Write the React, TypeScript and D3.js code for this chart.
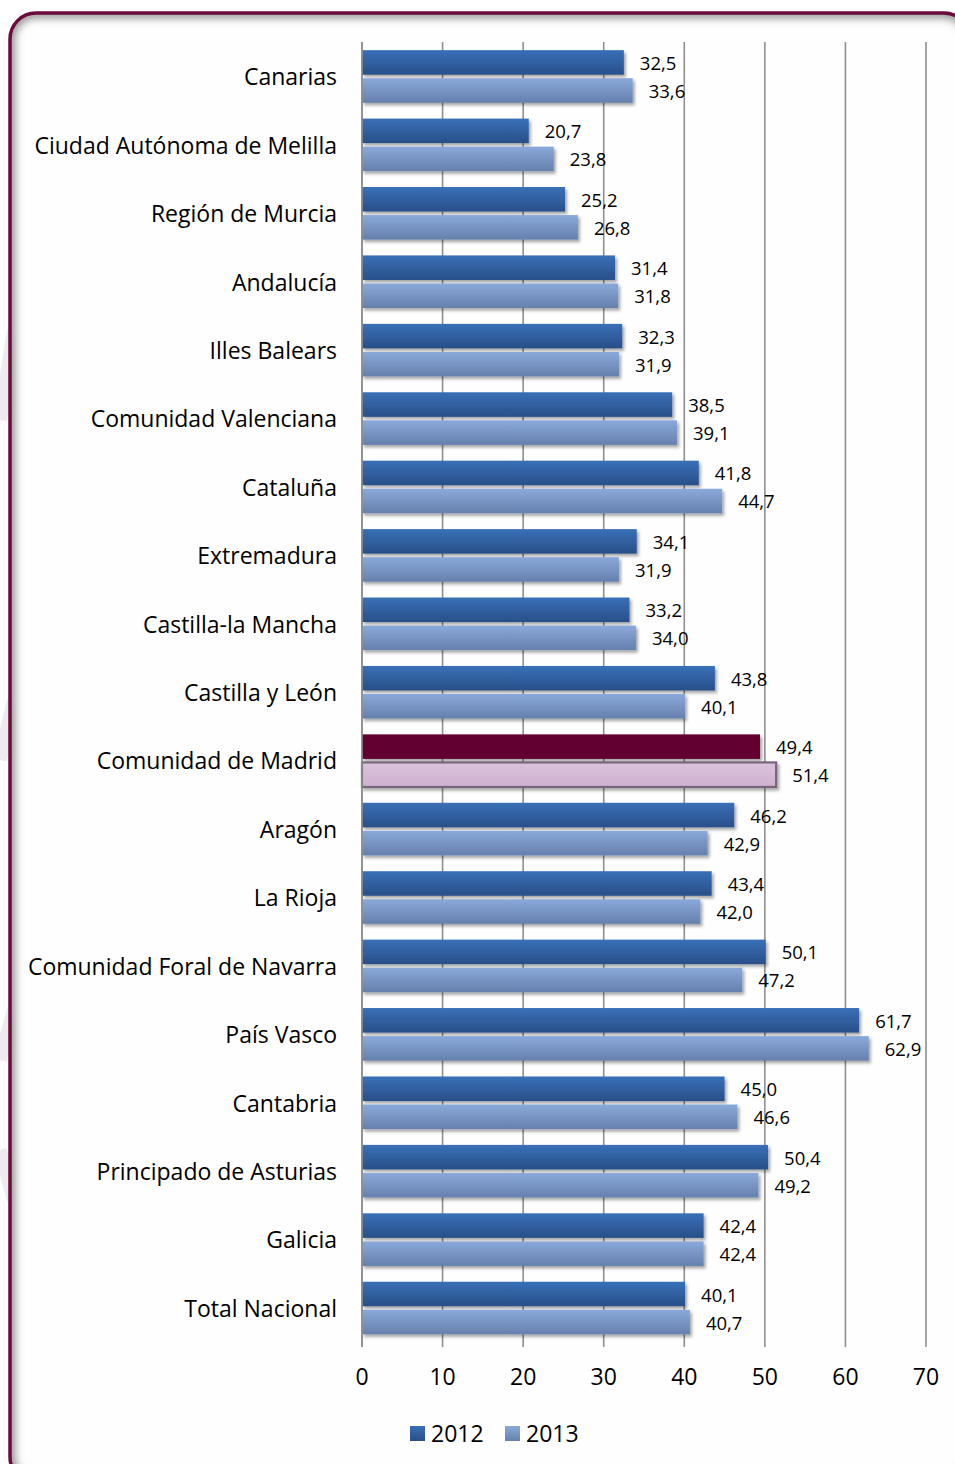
import { useEffect, useRef } from 'react';
import * as d3 from 'd3';

const categories = [
  'Canarias',
  'Ciudad Autónoma de Melilla',
  'Región de Murcia',
  'Andalucía',
  'Illes Balears',
  'Comunidad Valenciana',
  'Cataluña',
  'Extremadura',
  'Castilla-la Mancha',
  'Castilla y León',
  'Comunidad de Madrid',
  'Aragón',
  'La Rioja',
  'Comunidad Foral de Navarra',
  'País Vasco',
  'Cantabria',
  'Principado de Asturias',
  'Galicia',
  'Total Nacional',
];

const values2012 = [32.5, 20.7, 25.2, 31.4, 32.3, 38.5, 41.8, 34.1, 33.2, 43.8, 49.4, 46.2, 43.4, 50.1, 61.7, 45.0, 50.4, 42.4, 40.1];
const values2013 = [33.6, 23.8, 26.8, 31.8, 31.9, 39.1, 44.7, 31.9, 34.0, 40.1, 51.4, 42.9, 42.0, 47.2, 62.9, 46.6, 49.2, 42.4, 40.7];

const seriesNames = ['2012', '2013'];
const xTicks = [0, 10, 20, 30, 40, 50, 60, 70];
const highlight = 'Comunidad de Madrid';

const W = 955;
const H = 1464;
const FONT = "'Open Sans', 'Noto Sans', sans-serif";

const App = () => {
  const svgRef = useRef<SVGSVGElement | null>(null);

  useEffect(() => {
    const svg = d3.select(svgRef.current);
    svg.selectAll('*').remove();

    const defs = svg.append('defs');

    const grad = (id: string, top: string, bottom: string) => {
      const g = defs.append('linearGradient').attr('id', id)
        .attr('x1', 0).attr('y1', 0).attr('x2', 0).attr('y2', 1);
      g.append('stop').attr('offset', '0%').attr('stop-color', top);
      g.append('stop').attr('offset', '100%').attr('stop-color', bottom);
    };
    grad('g2012', '#3a70b8', '#284f88');
    grad('g2013', '#8aa9da', '#6680ad');
    grad('gMad', '#dcc2dc', '#cfb0cf');

    const shadow = defs.append('filter').attr('id', 'shadow')
      .attr('x', '-5%').attr('y', '-30%').attr('width', '115%').attr('height', '180%');
    shadow.append('feDropShadow').attr('dx', 2).attr('dy', 2.5)
      .attr('stdDeviation', 1.6).attr('flood-color', '#000').attr('flood-opacity', 0.35);

    const blur = defs.append('filter').attr('id', 'inner')
      .attr('x', '-10%').attr('y', '-10%').attr('width', '120%').attr('height', '120%');
    blur.append('feGaussianBlur').attr('stdDeviation', 4);

    // frame
    const fx = 10, fy = 13, fw = 960, fh = 1470, fr = 26;
    defs.append('clipPath').attr('id', 'frameClip')
      .append('rect').attr('x', fx).attr('y', fy).attr('width', fw).attr('height', fh).attr('rx', fr);

    svg.append('rect').attr('width', W).attr('height', H).attr('fill', '#ffffff');
    // faint background decoration on the left
    svg.append('path').attr('d', 'M0,420 L14,330 M0,760 L14,700 M0,1060 L14,1010 M0,1150 L14,1200')
      .attr('stroke', '#efeaef').attr('stroke-width', 14).attr('fill', 'none');

    svg.append('rect').attr('x', fx).attr('y', fy).attr('width', fw).attr('height', fh).attr('rx', fr)
      .attr('fill', '#fefefe');
    svg.append('g').attr('clip-path', 'url(#frameClip)')
      .append('rect').attr('x', fx).attr('y', fy).attr('width', fw).attr('height', fh).attr('rx', fr)
      .attr('fill', 'none').attr('stroke', '#8e8e8e').attr('stroke-width', 10)
      .attr('filter', 'url(#inner)');
    svg.append('rect').attr('x', fx).attr('y', fy).attr('width', fw).attr('height', fh).attr('rx', fr)
      .attr('fill', 'none').attr('stroke', '#6b0b3b').attr('stroke-width', 3.5);

    const x = d3.scaleLinear().domain([0, 70]).range([362, 926]);
    const y = d3.scaleBand<string>().domain(categories).range([44, 1344]).paddingInner(0.18).paddingOuter(0.09);
    const ys = d3.scaleBand<string>().domain(seriesNames).range([0, y.bandwidth()]);
    const barH = ys.bandwidth() - 3.5;

    // gridlines
    svg.append('g').selectAll('line').data(xTicks).join('line')
      .attr('x1', d => x(d)).attr('x2', d => x(d))
      .attr('y1', 42).attr('y2', 1347)
      .attr('stroke', '#8f8f8f').attr('stroke-width', 1.6);

    // tick labels
    svg.append('g').selectAll('text').data(xTicks).join('text')
      .attr('x', d => x(d)).attr('y', 1377).attr('dy', '0.35em')
      .attr('text-anchor', 'middle')
      .style('font-family', FONT).style('font-size', '23px').attr('fill', '#000')
      .text(d => d);

    const series = [values2012, values2013];
    const fmt = (v: number) => v.toFixed(1).replace('.', ',');

    categories.forEach((cat, i) => {
      const g = svg.append('g').attr('transform', `translate(0,${y(cat)})`);
      series.forEach((vals, s) => {
        const v = vals[i];
        const yy = ys(seriesNames[s])!;
        const isMad = cat === highlight;
        let fill = s === 0 ? 'url(#g2012)' : 'url(#g2013)';
        if (isMad) fill = s === 0 ? '#640030' : 'url(#gMad)';
        const r = g.append('rect')
          .attr('x', x(0)).attr('y', yy)
          .attr('width', x(v) - x(0)).attr('height', barH)
          .attr('fill', fill)
          .attr('filter', 'url(#shadow)');
        if (isMad && s === 1) r.attr('stroke', '#76667a').attr('stroke-width', 2.2);
        g.append('text')
          .attr('x', x(v) + 16).attr('y', yy + barH / 2 + 1).attr('dy', '0.35em')
          .style('font-family', FONT).style('font-size', '18.5px').attr('fill', '#000')
          .text(fmt(v));
      });
    });

    // category labels
    svg.append('g').selectAll('text').data(categories).join('text')
      .attr('x', 337).attr('y', d => y(d)! + y.bandwidth() / 2 - 1).attr('dy', '0.35em')
      .attr('text-anchor', 'end')
      .style('font-family', FONT).style('font-size', '23px').attr('fill', '#000')
      .text(d => d);

    // axis line on the left
    svg.append('line').attr('x1', x(0)).attr('x2', x(0)).attr('y1', 42).attr('y2', 1347)
      .attr('stroke', '#8f8f8f').attr('stroke-width', 1.6);

    // legend
    const legend = svg.append('g');
    const lx = [410, 505];
    seriesNames.forEach((n, i) => {
      legend.append('rect').attr('x', lx[i]).attr('y', 1426).attr('width', 15).attr('height', 15)
        .attr('fill', i === 0 ? 'url(#g2012)' : 'url(#g2013)');
      legend.append('text').attr('x', lx[i] + 21).attr('y', 1434).attr('dy', '0.35em')
        .style('font-family', FONT).style('font-size', '23px').attr('fill', '#000')
        .text(n);
    });
  }, []);

  return (
    <div style={{ position: 'absolute', left: 0, top: 0, width: W, height: H, overflow: 'hidden' }}>
      <svg ref={svgRef} width={W} height={H} style={{ display: 'block' }} />
    </div>
  );
};

export default App;
